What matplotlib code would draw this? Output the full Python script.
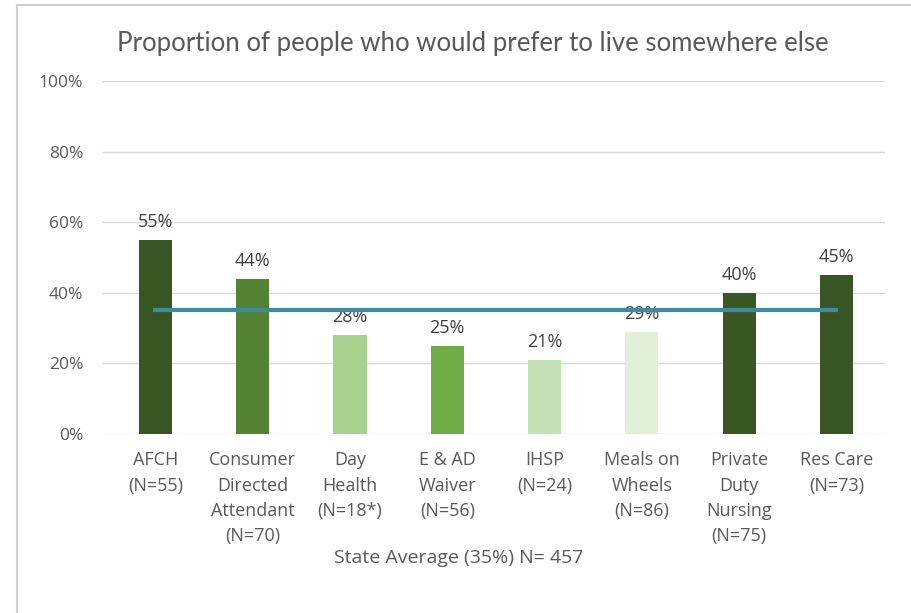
import matplotlib
matplotlib.use('Agg')
import matplotlib.pyplot as plt
from matplotlib.lines import Line2D

categories = ['AFCH\n(N=55)', 'Consumer\nDirected\nAttendant\n(N=70)', 'Day\nHealth\n(N=18*)',
              'E & AD\nWaiver\n(N=56)', 'IHSP\n(N=24)', 'Meals on\nWheels\n(N=86)',
              'Private\nDuty\nNursing\n(N=75)', 'Res Care\n(N=73)']
values = [55, 44, 28, 25, 21, 29, 40, 45]
state_average = 35
bar_colors = ['#375623', '#548235', '#A9D18E', '#70AD47', '#C5E0B4', '#E2F0D9', '#385723', '#375623']
y_ticks = [0, 20, 40, 60, 80, 100]

W, H = 911, 613
fig = plt.figure(figsize=(W / 100, H / 100), dpi=100)
fig.patch.set_facecolor('white')

# axes placed in pixel terms
left, right, top, bottom = 102, 885, 81, 434
ax = fig.add_axes([left / W, 1 - bottom / H, (right - left) / W, (bottom - top) / H])

x = list(range(len(categories)))
ax.bar(x, values, width=0.34, color=bar_colors, zorder=2)
ax.plot([x[0], x[-1]], [state_average, state_average], color='#3C8C9C', lw=3, zorder=3)

for xi, v in zip(x, values):
    ax.text(xi, v + 2.5, f'{v}%', ha='center', va='bottom', fontsize=13,
            color='#404040', family='Open Sans', zorder=1)

ax.set_xlim(-0.55, 7.5)
ax.set_ylim(0, 100)
ax.set_yticks(y_ticks)
ax.set_yticklabels([f'{t}%' for t in y_ticks], fontsize=12.5, color='#595959', family='Open Sans')
ax.yaxis.grid(True, color='#D9D9D9', lw=1, zorder=0)
ax.set_axisbelow(True)
ax.tick_params(axis='y', length=0, pad=13.5)
ax.set_xticks(x)
ax.set_xticklabels(categories, fontsize=13, color='#595959', family='Open Sans',
                   linespacing=1.52, va='top')
ax.tick_params(axis='x', length=0, pad=12.5)
for s in ax.spines.values():
    s.set_visible(False)

fig.text(473 / W, 1 - 43 / H, 'Proportion of people who would prefer to live somewhere else',
         ha='center', va='center', fontsize=18.5, color='#595959', family='Lato')
fig.text(459 / W, 1 - 558 / H, 'State Average (35%) N= 457',
         ha='center', va='center', fontsize=14, color='#595959', family='Open Sans')

# frame lines on left and top
fig.add_artist(Line2D([17 / W, 17 / W], [0, 1 - 5 / H], color='#D0D0D0', lw=1.5, transform=fig.transFigure))
fig.add_artist(Line2D([17 / W, 1], [1 - 5 / H, 1 - 5 / H], color='#D0D0D0', lw=1.5, transform=fig.transFigure))

fig.savefig('out.png', dpi=100)
